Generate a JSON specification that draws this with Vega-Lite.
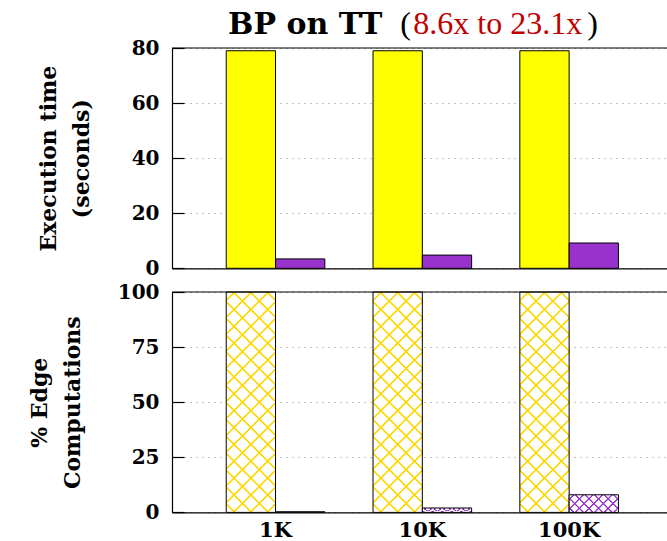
{
  "$schema": "https://vega.github.io/schema/vega-lite/v6.json",
  "padding": {"left": 28, "top": 8, "right": 0, "bottom": 0},
  "config": {
    "font": "DejaVu Serif",
    "view": {"stroke": null},
    "axis": {
      "labelFont": "DejaVu Serif",
      "labelFontWeight": "bold",
      "labelFontSize": 20,
      "labelColor": "black",
      "titleFont": "DejaVu Serif",
      "titleFontWeight": "bold",
      "titleFontSize": 22,
      "titleColor": "black",
      "domainColor": "black",
      "domainWidth": 1.2,
      "tickColor": "black",
      "tickWidth": 1.2
    }
  },
  "datasets": {
    "runs": [
      {"size": "1K", "variant": "Original", "time": 79.0, "edges": 100},
      {"size": "1K", "variant": "Optimized", "time": 3.42, "edges": 0.3},
      {"size": "10K", "variant": "Original", "time": 79.0, "edges": 100},
      {"size": "10K", "variant": "Optimized", "time": 4.8, "edges": 2.0},
      {"size": "100K", "variant": "Original", "time": 79.0, "edges": 100},
      {"size": "100K", "variant": "Optimized", "time": 9.19, "edges": 8.0}
    ]
  },
  "spacing": 3,
  "vconcat": [
    {
      "width": 497.5,
      "height": 220.3,
      "layer": [
        {
          "data": {"name": "runs"},
          "mark": {"type": "bar", "stroke": "black", "strokeWidth": 1},
          "encoding": {
            "x": {
              "field": "size", "type": "nominal", "sort": ["1K", "10K", "100K"],
              "scale": {"paddingInner": 0.3283, "paddingOuter": 0.3586, "align": 0.515},
              "axis": {"title": null, "labels": false, "ticks": false, "domain": true}
            },
            "xOffset": {"field": "variant", "type": "nominal", "sort": ["Original", "Optimized"]},
            "y": {
              "field": "time", "type": "quantitative",
              "scale": {"domain": [0, 80]},
              "axis": {
                "title": ["Execution time", "(seconds)"],
                "titleLineHeight": 33,
                "titlePadding": 38,
                "values": [0, 20, 40, 60, 80],
                "tickSize": -12,
                "labelPadding": 25,
                "labelFlush": false,
                "grid": true,
                "gridColor": "#999999",
                "gridDash": [1.2, 4.8],
                "gridWidth": 1
              }
            },
            "color": {
              "field": "variant", "type": "nominal",
              "scale": {"domain": ["Original", "Optimized"], "range": ["#ffff00", "#9932cc"]},
              "legend": null
            }
          }
        },
        {
          "data": {"values": [{}]},
          "mark": {"type": "rule", "color": "black", "strokeWidth": 1.2},
          "encoding": {"y": {"datum": 80}}
        },
        {
          "data": {"values": [{"label": "BP on TT"}]},
          "mark": {"type": "text", "font": "DejaVu Serif", "fontWeight": "bold", "fontSize": 30, "align": "right", "baseline": "alphabetic", "dx": -40, "dy": -14, "color": "black"},
          "encoding": {"x": {"datum": "10K"}, "y": {"datum": 80}, "text": {"field": "label"}}
        },
        {
          "data": {"values": [{"label": "("}]},
          "mark": {"type": "text", "font": "Liberation Serif", "fontSize": 32, "align": "left", "baseline": "alphabetic", "dx": -22, "dy": -14, "color": "black"},
          "encoding": {"x": {"datum": "10K"}, "y": {"datum": 80}, "text": {"field": "label"}}
        },
        {
          "data": {"values": [{"label": "8.6x to 23.1x"}]},
          "mark": {"type": "text", "font": "Liberation Serif", "fontSize": 32, "align": "left", "baseline": "alphabetic", "dx": -9, "dy": -14, "color": "#c00000"},
          "encoding": {"x": {"datum": "10K"}, "y": {"datum": 80}, "text": {"field": "label"}}
        },
        {
          "data": {"values": [{"label": ")"}]},
          "mark": {"type": "text", "font": "Liberation Serif", "fontSize": 32, "align": "left", "baseline": "alphabetic", "dx": 165, "dy": -14, "color": "black"},
          "encoding": {"x": {"datum": "10K"}, "y": {"datum": 80}, "text": {"field": "label"}}
        }
      ]
    },
    {
      "width": 497.5,
      "height": 220.4,
      "layer": [
        {
          "data": {"name": "runs"},
          "encoding": {
            "x": {
              "field": "size", "type": "nominal", "sort": ["1K", "10K", "100K"],
              "scale": {"paddingInner": 0.3283, "paddingOuter": 0.3586, "align": 0.515},
              "axis": {"title": null, "ticks": false, "labelAngle": 0, "labelPadding": 7, "labelFontSize": 21, "domain": true}
            },
            "xOffset": {"field": "variant", "type": "nominal", "sort": ["Original", "Optimized"]},
            "y": {
              "field": "edges", "type": "quantitative",
              "scale": {"domain": [0, 100]},
              "axis": {
                "title": ["% Edge", "Computations"],
                "titleLineHeight": 33,
                "titlePadding": 33,
                "values": [0, 25, 50, 75, 100],
                "tickSize": -12,
                "labelPadding": 25,
                "labelFlush": false,
                "grid": true,
                "gridColor": "#999999",
                "gridDash": [1.2, 4.8],
                "gridWidth": 1
              }
            }
          },
          "layer": [
            {
              "transform": [{"filter": "datum.variant === 'Original'"}],
              "mark": {
                "type": "bar", "strokeWidth": 0,
                "fill": {
                  "gradient": "linear", "x1": 0, "y1": 0, "x2": 0.26068, "y2": 1.16539,
                  "stops": [
                    {"offset": 0, "color": "#ffffff"},
                    {"offset": 0.02525, "color": "#ffffff"}, {"offset": 0.02875, "color": "#ffd700"}, {"offset": 0.03375, "color": "#ffd700"}, {"offset": 0.03725, "color": "#ffffff"},
                    {"offset": 0.08775, "color": "#ffffff"}, {"offset": 0.09125, "color": "#ffd700"}, {"offset": 0.09625, "color": "#ffd700"}, {"offset": 0.09975, "color": "#ffffff"},
                    {"offset": 0.15025, "color": "#ffffff"}, {"offset": 0.15375, "color": "#ffd700"}, {"offset": 0.15875, "color": "#ffd700"}, {"offset": 0.16225, "color": "#ffffff"},
                    {"offset": 0.21275, "color": "#ffffff"}, {"offset": 0.21625, "color": "#ffd700"}, {"offset": 0.22125, "color": "#ffd700"}, {"offset": 0.22475, "color": "#ffffff"},
                    {"offset": 0.27525, "color": "#ffffff"}, {"offset": 0.27875, "color": "#ffd700"}, {"offset": 0.28375, "color": "#ffd700"}, {"offset": 0.28725, "color": "#ffffff"},
                    {"offset": 0.33775, "color": "#ffffff"}, {"offset": 0.34125, "color": "#ffd700"}, {"offset": 0.34625, "color": "#ffd700"}, {"offset": 0.34975, "color": "#ffffff"},
                    {"offset": 0.40025, "color": "#ffffff"}, {"offset": 0.40375, "color": "#ffd700"}, {"offset": 0.40875, "color": "#ffd700"}, {"offset": 0.41225, "color": "#ffffff"},
                    {"offset": 0.46275, "color": "#ffffff"}, {"offset": 0.46625, "color": "#ffd700"}, {"offset": 0.47125, "color": "#ffd700"}, {"offset": 0.47475, "color": "#ffffff"},
                    {"offset": 0.52525, "color": "#ffffff"}, {"offset": 0.52875, "color": "#ffd700"}, {"offset": 0.53375, "color": "#ffd700"}, {"offset": 0.53725, "color": "#ffffff"},
                    {"offset": 0.58775, "color": "#ffffff"}, {"offset": 0.59125, "color": "#ffd700"}, {"offset": 0.59625, "color": "#ffd700"}, {"offset": 0.59975, "color": "#ffffff"},
                    {"offset": 0.65025, "color": "#ffffff"}, {"offset": 0.65375, "color": "#ffd700"}, {"offset": 0.65875, "color": "#ffd700"}, {"offset": 0.66225, "color": "#ffffff"},
                    {"offset": 0.71275, "color": "#ffffff"}, {"offset": 0.71625, "color": "#ffd700"}, {"offset": 0.72125, "color": "#ffd700"}, {"offset": 0.72475, "color": "#ffffff"},
                    {"offset": 0.77525, "color": "#ffffff"}, {"offset": 0.77875, "color": "#ffd700"}, {"offset": 0.78375, "color": "#ffd700"}, {"offset": 0.78725, "color": "#ffffff"},
                    {"offset": 0.83775, "color": "#ffffff"}, {"offset": 0.84125, "color": "#ffd700"}, {"offset": 0.84625, "color": "#ffd700"}, {"offset": 0.84975, "color": "#ffffff"},
                    {"offset": 0.90025, "color": "#ffffff"}, {"offset": 0.90375, "color": "#ffd700"}, {"offset": 0.90875, "color": "#ffd700"}, {"offset": 0.91225, "color": "#ffffff"},
                    {"offset": 0.96275, "color": "#ffffff"}, {"offset": 0.96625, "color": "#ffd700"}, {"offset": 0.97125, "color": "#ffd700"}, {"offset": 0.97475, "color": "#ffffff"},
                    {"offset": 1, "color": "#ffffff"}
                  ]
                }
              }
            },
            {
              "transform": [{"filter": "datum.variant === 'Original'"}],
              "mark": {
                "type": "bar", "stroke": "black", "strokeWidth": 1,
                "fill": {
                  "gradient": "linear", "x1": 1, "y1": 0, "x2": 0.73932, "y2": 1.16539,
                  "stops": [
                    {"offset": 0, "color": "rgba(255,215,0,0)"},
                    {"offset": 0.02525, "color": "rgba(255,215,0,0)"}, {"offset": 0.02875, "color": "#ffd700"}, {"offset": 0.03375, "color": "#ffd700"}, {"offset": 0.03725, "color": "rgba(255,215,0,0)"},
                    {"offset": 0.08775, "color": "rgba(255,215,0,0)"}, {"offset": 0.09125, "color": "#ffd700"}, {"offset": 0.09625, "color": "#ffd700"}, {"offset": 0.09975, "color": "rgba(255,215,0,0)"},
                    {"offset": 0.15025, "color": "rgba(255,215,0,0)"}, {"offset": 0.15375, "color": "#ffd700"}, {"offset": 0.15875, "color": "#ffd700"}, {"offset": 0.16225, "color": "rgba(255,215,0,0)"},
                    {"offset": 0.21275, "color": "rgba(255,215,0,0)"}, {"offset": 0.21625, "color": "#ffd700"}, {"offset": 0.22125, "color": "#ffd700"}, {"offset": 0.22475, "color": "rgba(255,215,0,0)"},
                    {"offset": 0.27525, "color": "rgba(255,215,0,0)"}, {"offset": 0.27875, "color": "#ffd700"}, {"offset": 0.28375, "color": "#ffd700"}, {"offset": 0.28725, "color": "rgba(255,215,0,0)"},
                    {"offset": 0.33775, "color": "rgba(255,215,0,0)"}, {"offset": 0.34125, "color": "#ffd700"}, {"offset": 0.34625, "color": "#ffd700"}, {"offset": 0.34975, "color": "rgba(255,215,0,0)"},
                    {"offset": 0.40025, "color": "rgba(255,215,0,0)"}, {"offset": 0.40375, "color": "#ffd700"}, {"offset": 0.40875, "color": "#ffd700"}, {"offset": 0.41225, "color": "rgba(255,215,0,0)"},
                    {"offset": 0.46275, "color": "rgba(255,215,0,0)"}, {"offset": 0.46625, "color": "#ffd700"}, {"offset": 0.47125, "color": "#ffd700"}, {"offset": 0.47475, "color": "rgba(255,215,0,0)"},
                    {"offset": 0.52525, "color": "rgba(255,215,0,0)"}, {"offset": 0.52875, "color": "#ffd700"}, {"offset": 0.53375, "color": "#ffd700"}, {"offset": 0.53725, "color": "rgba(255,215,0,0)"},
                    {"offset": 0.58775, "color": "rgba(255,215,0,0)"}, {"offset": 0.59125, "color": "#ffd700"}, {"offset": 0.59625, "color": "#ffd700"}, {"offset": 0.59975, "color": "rgba(255,215,0,0)"},
                    {"offset": 0.65025, "color": "rgba(255,215,0,0)"}, {"offset": 0.65375, "color": "#ffd700"}, {"offset": 0.65875, "color": "#ffd700"}, {"offset": 0.66225, "color": "rgba(255,215,0,0)"},
                    {"offset": 0.71275, "color": "rgba(255,215,0,0)"}, {"offset": 0.71625, "color": "#ffd700"}, {"offset": 0.72125, "color": "#ffd700"}, {"offset": 0.72475, "color": "rgba(255,215,0,0)"},
                    {"offset": 0.77525, "color": "rgba(255,215,0,0)"}, {"offset": 0.77875, "color": "#ffd700"}, {"offset": 0.78375, "color": "#ffd700"}, {"offset": 0.78725, "color": "rgba(255,215,0,0)"},
                    {"offset": 0.83775, "color": "rgba(255,215,0,0)"}, {"offset": 0.84125, "color": "#ffd700"}, {"offset": 0.84625, "color": "#ffd700"}, {"offset": 0.84975, "color": "rgba(255,215,0,0)"},
                    {"offset": 0.90025, "color": "rgba(255,215,0,0)"}, {"offset": 0.90375, "color": "#ffd700"}, {"offset": 0.90875, "color": "#ffd700"}, {"offset": 0.91225, "color": "rgba(255,215,0,0)"},
                    {"offset": 0.96275, "color": "rgba(255,215,0,0)"}, {"offset": 0.96625, "color": "#ffd700"}, {"offset": 0.97125, "color": "#ffd700"}, {"offset": 0.97475, "color": "rgba(255,215,0,0)"},
                    {"offset": 1, "color": "rgba(255,215,0,0)"}
                  ]
                }
              }
            },
            {
              "transform": [{"filter": "datum.variant === 'Optimized'"}],
              "mark": {
                "type": "bar", "strokeWidth": 0,
                "fill": {
                  "gradient": "linear", "x1": 0, "y1": 0, "x2": 1.2037, "y2": 0.43046,
                  "stops": [
                    {"offset": 0, "color": "#ffffff"},
                    {"offset": 0.0514, "color": "#ffffff"}, {"offset": 0.0634, "color": "#9932cc"}, {"offset": 0.0794, "color": "#9932cc"}, {"offset": 0.0914, "color": "#ffffff"},
                    {"offset": 0.1943, "color": "#ffffff"}, {"offset": 0.2063, "color": "#9932cc"}, {"offset": 0.2223, "color": "#9932cc"}, {"offset": 0.2343, "color": "#ffffff"},
                    {"offset": 0.3371, "color": "#ffffff"}, {"offset": 0.3491, "color": "#9932cc"}, {"offset": 0.3651, "color": "#9932cc"}, {"offset": 0.3771, "color": "#ffffff"},
                    {"offset": 0.48, "color": "#ffffff"}, {"offset": 0.492, "color": "#9932cc"}, {"offset": 0.508, "color": "#9932cc"}, {"offset": 0.52, "color": "#ffffff"},
                    {"offset": 0.6229, "color": "#ffffff"}, {"offset": 0.6349, "color": "#9932cc"}, {"offset": 0.6509, "color": "#9932cc"}, {"offset": 0.6629, "color": "#ffffff"},
                    {"offset": 0.7657, "color": "#ffffff"}, {"offset": 0.7777, "color": "#9932cc"}, {"offset": 0.7937, "color": "#9932cc"}, {"offset": 0.8057, "color": "#ffffff"},
                    {"offset": 0.9086, "color": "#ffffff"}, {"offset": 0.9206, "color": "#9932cc"}, {"offset": 0.9366, "color": "#9932cc"}, {"offset": 0.9486, "color": "#ffffff"},
                    {"offset": 1, "color": "#ffffff"}
                  ]
                }
              }
            },
            {
              "transform": [{"filter": "datum.variant === 'Optimized'"}],
              "mark": {
                "type": "bar", "stroke": "black", "strokeWidth": 1,
                "fill": {
                  "gradient": "linear", "x1": 1, "y1": 0, "x2": -0.2037, "y2": 0.43046,
                  "stops": [
                    {"offset": 0, "color": "rgba(153,50,204,0)"},
                    {"offset": 0.0514, "color": "rgba(153,50,204,0)"}, {"offset": 0.0634, "color": "#9932cc"}, {"offset": 0.0794, "color": "#9932cc"}, {"offset": 0.0914, "color": "rgba(153,50,204,0)"},
                    {"offset": 0.1943, "color": "rgba(153,50,204,0)"}, {"offset": 0.2063, "color": "#9932cc"}, {"offset": 0.2223, "color": "#9932cc"}, {"offset": 0.2343, "color": "rgba(153,50,204,0)"},
                    {"offset": 0.3371, "color": "rgba(153,50,204,0)"}, {"offset": 0.3491, "color": "#9932cc"}, {"offset": 0.3651, "color": "#9932cc"}, {"offset": 0.3771, "color": "rgba(153,50,204,0)"},
                    {"offset": 0.48, "color": "rgba(153,50,204,0)"}, {"offset": 0.492, "color": "#9932cc"}, {"offset": 0.508, "color": "#9932cc"}, {"offset": 0.52, "color": "rgba(153,50,204,0)"},
                    {"offset": 0.6229, "color": "rgba(153,50,204,0)"}, {"offset": 0.6349, "color": "#9932cc"}, {"offset": 0.6509, "color": "#9932cc"}, {"offset": 0.6629, "color": "rgba(153,50,204,0)"},
                    {"offset": 0.7657, "color": "rgba(153,50,204,0)"}, {"offset": 0.7777, "color": "#9932cc"}, {"offset": 0.7937, "color": "#9932cc"}, {"offset": 0.8057, "color": "rgba(153,50,204,0)"},
                    {"offset": 0.9086, "color": "rgba(153,50,204,0)"}, {"offset": 0.9206, "color": "#9932cc"}, {"offset": 0.9366, "color": "#9932cc"}, {"offset": 0.9486, "color": "rgba(153,50,204,0)"},
                    {"offset": 1, "color": "rgba(153,50,204,0)"}
                  ]
                }
              }
            }
          ]
        },
        {
          "data": {"values": [{}]},
          "mark": {"type": "rule", "color": "black", "strokeWidth": 1.2},
          "encoding": {"y": {"datum": 100}}
        }
      ]
    }
  ]
}
